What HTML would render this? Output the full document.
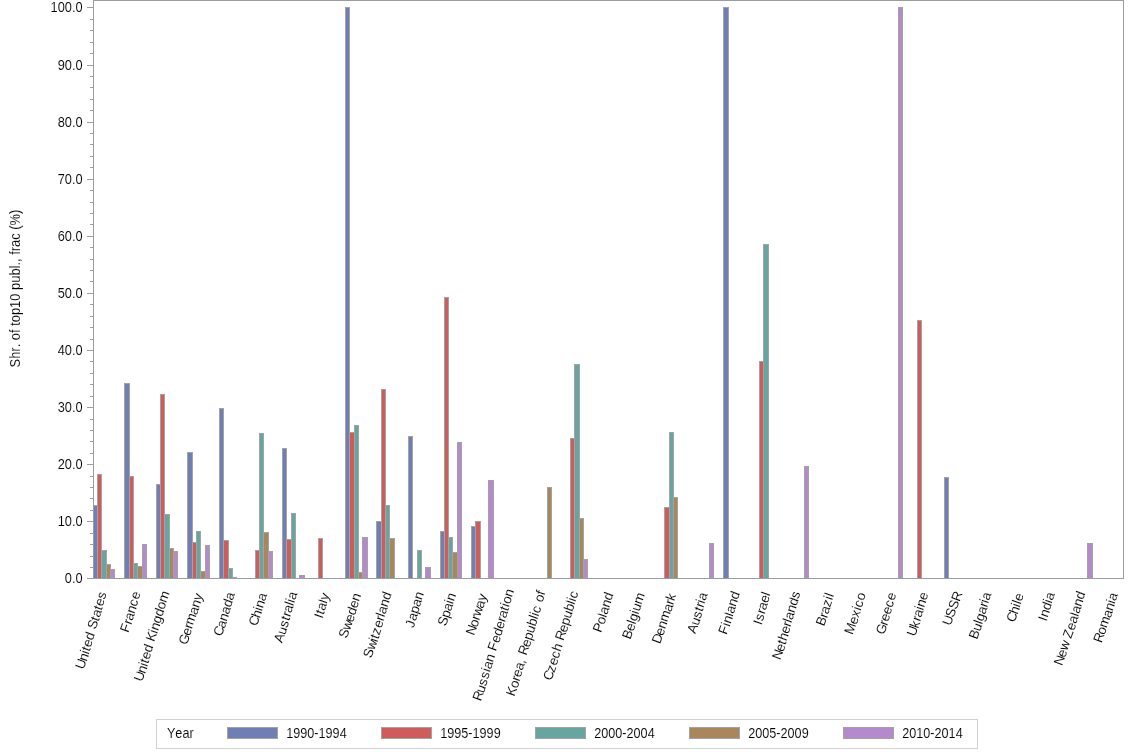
<!DOCTYPE html>
<html lang="en"><head><meta charset="utf-8"><title>Shr. of top10 publ., frac (%) by country and year</title>
<style>
html,body{margin:0;padding:0;background:#fff;}
body{width:1134px;height:756px;overflow:hidden;}
svg{display:block;will-change:transform;}
text{font-family:"Liberation Sans", sans-serif;fill:#000;font-kerning:none;stroke:#fff;stroke-width:0.1px;paint-order:fill stroke;}
.g{shape-rendering:crispEdges;}
</style></head><body>
<svg width="1134" height="756" viewBox="0 0 1134 756">
<rect x="0" y="0" width="1134" height="756" fill="#fff"/>
<g class="g">
<rect x="93" y="505" width="5" height="73" fill="#A3A3A3"/>
<rect x="94" y="506" width="3" height="72" fill="#6F7EB3"/>
<rect x="97" y="474" width="5" height="104" fill="#A3A3A3"/>
<rect x="98" y="475" width="3" height="103" fill="#D05B5B"/>
<rect x="101" y="550" width="6" height="28" fill="#A3A3A3"/>
<rect x="102" y="551" width="4" height="27" fill="#66A5A0"/>
<rect x="106" y="564" width="5" height="14" fill="#A3A3A3"/>
<rect x="107" y="565" width="3" height="13" fill="#A9865B"/>
<rect x="110" y="569" width="5" height="9" fill="#A3A3A3"/>
<rect x="111" y="570" width="3" height="8" fill="#B689CD"/>
<rect x="124" y="383" width="6" height="195" fill="#A3A3A3"/>
<rect x="125" y="384" width="4" height="194" fill="#6F7EB3"/>
<rect x="129" y="476" width="5" height="102" fill="#A3A3A3"/>
<rect x="130" y="477" width="3" height="101" fill="#D05B5B"/>
<rect x="133" y="563" width="5" height="15" fill="#A3A3A3"/>
<rect x="134" y="564" width="3" height="14" fill="#66A5A0"/>
<rect x="137" y="566" width="6" height="12" fill="#A3A3A3"/>
<rect x="138" y="567" width="4" height="11" fill="#A9865B"/>
<rect x="142" y="544" width="5" height="34" fill="#A3A3A3"/>
<rect x="143" y="545" width="3" height="33" fill="#B689CD"/>
<rect x="156" y="484" width="5" height="94" fill="#A3A3A3"/>
<rect x="157" y="485" width="3" height="93" fill="#6F7EB3"/>
<rect x="160" y="394" width="5" height="184" fill="#A3A3A3"/>
<rect x="161" y="395" width="3" height="183" fill="#D05B5B"/>
<rect x="164" y="514" width="6" height="64" fill="#A3A3A3"/>
<rect x="165" y="515" width="4" height="63" fill="#66A5A0"/>
<rect x="169" y="548" width="5" height="30" fill="#A3A3A3"/>
<rect x="170" y="549" width="3" height="29" fill="#A9865B"/>
<rect x="173" y="551" width="5" height="27" fill="#A3A3A3"/>
<rect x="174" y="552" width="3" height="26" fill="#B689CD"/>
<rect x="187" y="452" width="6" height="126" fill="#A3A3A3"/>
<rect x="188" y="453" width="4" height="125" fill="#6F7EB3"/>
<rect x="192" y="542" width="5" height="36" fill="#A3A3A3"/>
<rect x="193" y="543" width="3" height="35" fill="#D05B5B"/>
<rect x="196" y="531" width="5" height="47" fill="#A3A3A3"/>
<rect x="197" y="532" width="3" height="46" fill="#66A5A0"/>
<rect x="200" y="571" width="6" height="7" fill="#A3A3A3"/>
<rect x="201" y="572" width="4" height="6" fill="#A9865B"/>
<rect x="205" y="545" width="5" height="33" fill="#A3A3A3"/>
<rect x="206" y="546" width="3" height="32" fill="#B689CD"/>
<rect x="219" y="408" width="5" height="170" fill="#A3A3A3"/>
<rect x="220" y="409" width="3" height="169" fill="#6F7EB3"/>
<rect x="223" y="540" width="6" height="38" fill="#A3A3A3"/>
<rect x="224" y="541" width="4" height="37" fill="#D05B5B"/>
<rect x="228" y="568" width="5" height="10" fill="#A3A3A3"/>
<rect x="229" y="569" width="3" height="9" fill="#66A5A0"/>
<rect x="232" y="577" width="5" height="1" fill="#A3A3A3"/>
<rect x="255" y="550" width="5" height="28" fill="#A3A3A3"/>
<rect x="256" y="551" width="3" height="27" fill="#D05B5B"/>
<rect x="259" y="433" width="5" height="145" fill="#A3A3A3"/>
<rect x="260" y="434" width="3" height="144" fill="#66A5A0"/>
<rect x="263" y="532" width="6" height="46" fill="#A3A3A3"/>
<rect x="264" y="533" width="4" height="45" fill="#A9865B"/>
<rect x="268" y="551" width="5" height="27" fill="#A3A3A3"/>
<rect x="269" y="552" width="3" height="26" fill="#B689CD"/>
<rect x="282" y="448" width="5" height="130" fill="#A3A3A3"/>
<rect x="283" y="449" width="3" height="129" fill="#6F7EB3"/>
<rect x="286" y="539" width="6" height="39" fill="#A3A3A3"/>
<rect x="287" y="540" width="4" height="38" fill="#D05B5B"/>
<rect x="291" y="513" width="5" height="65" fill="#A3A3A3"/>
<rect x="292" y="514" width="3" height="64" fill="#66A5A0"/>
<rect x="299" y="575" width="6" height="3" fill="#A3A3A3"/>
<rect x="300" y="576" width="4" height="2" fill="#B689CD"/>
<rect x="318" y="538" width="5" height="40" fill="#A3A3A3"/>
<rect x="319" y="539" width="3" height="39" fill="#D05B5B"/>
<rect x="345" y="7" width="5" height="571" fill="#A3A3A3"/>
<rect x="346" y="8" width="3" height="570" fill="#6F7EB3"/>
<rect x="349" y="432" width="6" height="146" fill="#A3A3A3"/>
<rect x="350" y="433" width="4" height="145" fill="#D05B5B"/>
<rect x="354" y="425" width="5" height="153" fill="#A3A3A3"/>
<rect x="355" y="426" width="3" height="152" fill="#66A5A0"/>
<rect x="358" y="572" width="5" height="6" fill="#A3A3A3"/>
<rect x="359" y="573" width="3" height="5" fill="#A9865B"/>
<rect x="362" y="537" width="6" height="41" fill="#A3A3A3"/>
<rect x="363" y="538" width="4" height="40" fill="#B689CD"/>
<rect x="376" y="521" width="6" height="57" fill="#A3A3A3"/>
<rect x="377" y="522" width="4" height="56" fill="#6F7EB3"/>
<rect x="381" y="389" width="5" height="189" fill="#A3A3A3"/>
<rect x="382" y="390" width="3" height="188" fill="#D05B5B"/>
<rect x="385" y="505" width="5" height="73" fill="#A3A3A3"/>
<rect x="386" y="506" width="3" height="72" fill="#66A5A0"/>
<rect x="389" y="538" width="6" height="40" fill="#A3A3A3"/>
<rect x="390" y="539" width="4" height="39" fill="#A9865B"/>
<rect x="408" y="436" width="5" height="142" fill="#A3A3A3"/>
<rect x="409" y="437" width="3" height="141" fill="#6F7EB3"/>
<rect x="417" y="550" width="5" height="28" fill="#A3A3A3"/>
<rect x="418" y="551" width="3" height="27" fill="#66A5A0"/>
<rect x="425" y="567" width="6" height="11" fill="#A3A3A3"/>
<rect x="426" y="568" width="4" height="10" fill="#B689CD"/>
<rect x="440" y="531" width="5" height="47" fill="#A3A3A3"/>
<rect x="441" y="532" width="3" height="46" fill="#6F7EB3"/>
<rect x="444" y="297" width="5" height="281" fill="#A3A3A3"/>
<rect x="445" y="298" width="3" height="280" fill="#D05B5B"/>
<rect x="448" y="537" width="5" height="41" fill="#A3A3A3"/>
<rect x="449" y="538" width="3" height="40" fill="#66A5A0"/>
<rect x="452" y="552" width="6" height="26" fill="#A3A3A3"/>
<rect x="453" y="553" width="4" height="25" fill="#A9865B"/>
<rect x="457" y="442" width="5" height="136" fill="#A3A3A3"/>
<rect x="458" y="443" width="3" height="135" fill="#B689CD"/>
<rect x="471" y="526" width="5" height="52" fill="#A3A3A3"/>
<rect x="472" y="527" width="3" height="51" fill="#6F7EB3"/>
<rect x="475" y="521" width="6" height="57" fill="#A3A3A3"/>
<rect x="476" y="522" width="4" height="56" fill="#D05B5B"/>
<rect x="488" y="480" width="6" height="98" fill="#A3A3A3"/>
<rect x="489" y="481" width="4" height="97" fill="#B689CD"/>
<rect x="547" y="487" width="5" height="91" fill="#A3A3A3"/>
<rect x="548" y="488" width="3" height="90" fill="#A9865B"/>
<rect x="570" y="438" width="5" height="140" fill="#A3A3A3"/>
<rect x="571" y="439" width="3" height="139" fill="#D05B5B"/>
<rect x="574" y="364" width="6" height="214" fill="#A3A3A3"/>
<rect x="575" y="365" width="4" height="213" fill="#66A5A0"/>
<rect x="579" y="518" width="5" height="60" fill="#A3A3A3"/>
<rect x="580" y="519" width="3" height="59" fill="#A9865B"/>
<rect x="583" y="559" width="5" height="19" fill="#A3A3A3"/>
<rect x="584" y="560" width="3" height="18" fill="#B689CD"/>
<rect x="664" y="507" width="6" height="71" fill="#A3A3A3"/>
<rect x="665" y="508" width="4" height="70" fill="#D05B5B"/>
<rect x="669" y="432" width="5" height="146" fill="#A3A3A3"/>
<rect x="670" y="433" width="3" height="145" fill="#66A5A0"/>
<rect x="673" y="497" width="5" height="81" fill="#A3A3A3"/>
<rect x="674" y="498" width="3" height="80" fill="#A9865B"/>
<rect x="709" y="543" width="5" height="35" fill="#A3A3A3"/>
<rect x="710" y="544" width="3" height="34" fill="#B689CD"/>
<rect x="723" y="7" width="6" height="571" fill="#A3A3A3"/>
<rect x="724" y="8" width="4" height="570" fill="#6F7EB3"/>
<rect x="759" y="361" width="5" height="217" fill="#A3A3A3"/>
<rect x="760" y="362" width="3" height="216" fill="#D05B5B"/>
<rect x="763" y="244" width="6" height="334" fill="#A3A3A3"/>
<rect x="764" y="245" width="4" height="333" fill="#66A5A0"/>
<rect x="804" y="466" width="5" height="112" fill="#A3A3A3"/>
<rect x="805" y="467" width="3" height="111" fill="#B689CD"/>
<rect x="898" y="7" width="5" height="571" fill="#A3A3A3"/>
<rect x="899" y="8" width="3" height="570" fill="#B689CD"/>
<rect x="917" y="320" width="5" height="258" fill="#A3A3A3"/>
<rect x="918" y="321" width="3" height="257" fill="#D05B5B"/>
<rect x="944" y="477" width="5" height="101" fill="#A3A3A3"/>
<rect x="945" y="478" width="3" height="100" fill="#6F7EB3"/>
<rect x="1087" y="543" width="6" height="35" fill="#A3A3A3"/>
<rect x="1088" y="544" width="4" height="34" fill="#B689CD"/>
</g>
<g class="g" fill="#989EA1">
<rect x="93" y="0" width="1031" height="1"/>
<rect x="93" y="578" width="1031" height="1"/>
<rect x="93" y="0" width="1" height="579"/>
<rect x="1123" y="0" width="1" height="579"/>
<rect x="87" y="578" width="6" height="1"/>
<rect x="90" y="567" width="3" height="1"/>
<rect x="90" y="556" width="3" height="1"/>
<rect x="90" y="544" width="3" height="1"/>
<rect x="90" y="533" width="3" height="1"/>
<rect x="87" y="521" width="6" height="1"/>
<rect x="90" y="510" width="3" height="1"/>
<rect x="90" y="498" width="3" height="1"/>
<rect x="90" y="487" width="3" height="1"/>
<rect x="90" y="476" width="3" height="1"/>
<rect x="87" y="464" width="6" height="1"/>
<rect x="90" y="453" width="3" height="1"/>
<rect x="90" y="441" width="3" height="1"/>
<rect x="90" y="430" width="3" height="1"/>
<rect x="90" y="419" width="3" height="1"/>
<rect x="87" y="407" width="6" height="1"/>
<rect x="90" y="396" width="3" height="1"/>
<rect x="90" y="384" width="3" height="1"/>
<rect x="90" y="373" width="3" height="1"/>
<rect x="90" y="361" width="3" height="1"/>
<rect x="87" y="350" width="6" height="1"/>
<rect x="90" y="339" width="3" height="1"/>
<rect x="90" y="327" width="3" height="1"/>
<rect x="90" y="316" width="3" height="1"/>
<rect x="90" y="304" width="3" height="1"/>
<rect x="87" y="293" width="6" height="1"/>
<rect x="90" y="281" width="3" height="1"/>
<rect x="90" y="270" width="3" height="1"/>
<rect x="90" y="259" width="3" height="1"/>
<rect x="90" y="247" width="3" height="1"/>
<rect x="87" y="236" width="6" height="1"/>
<rect x="90" y="224" width="3" height="1"/>
<rect x="90" y="213" width="3" height="1"/>
<rect x="90" y="202" width="3" height="1"/>
<rect x="90" y="190" width="3" height="1"/>
<rect x="87" y="179" width="6" height="1"/>
<rect x="90" y="167" width="3" height="1"/>
<rect x="90" y="156" width="3" height="1"/>
<rect x="90" y="144" width="3" height="1"/>
<rect x="90" y="133" width="3" height="1"/>
<rect x="87" y="122" width="6" height="1"/>
<rect x="90" y="110" width="3" height="1"/>
<rect x="90" y="99" width="3" height="1"/>
<rect x="90" y="87" width="3" height="1"/>
<rect x="90" y="76" width="3" height="1"/>
<rect x="87" y="65" width="6" height="1"/>
<rect x="90" y="53" width="3" height="1"/>
<rect x="90" y="42" width="3" height="1"/>
<rect x="90" y="30" width="3" height="1"/>
<rect x="90" y="19" width="3" height="1"/>
<rect x="87" y="7" width="6" height="1"/>
</g>
<g font-size="13.0" text-anchor="end">
<text transform="translate(82.6,583.0) scale(0.985,1.12)">0.0</text>
<text transform="translate(82.6,526.0) scale(0.985,1.12)">10.0</text>
<text transform="translate(82.6,469.0) scale(0.985,1.12)">20.0</text>
<text transform="translate(82.6,412.0) scale(0.985,1.12)">30.0</text>
<text transform="translate(82.6,355.0) scale(0.985,1.12)">40.0</text>
<text transform="translate(82.6,298.0) scale(0.985,1.12)">50.0</text>
<text transform="translate(82.6,241.0) scale(0.985,1.12)">60.0</text>
<text transform="translate(82.6,184.0) scale(0.985,1.12)">70.0</text>
<text transform="translate(82.6,127.0) scale(0.985,1.12)">80.0</text>
<text transform="translate(82.6,70.0) scale(0.985,1.12)">90.0</text>
<text transform="translate(82.6,12.0) scale(0.985,1.12)">100.0</text>
</g>
<text font-size="13.0" text-anchor="middle" transform="translate(20.1,288.55) rotate(-90) scale(0.9927,1.12)">Shr. of top10 publ., frac (%)</text>
<g font-size="13.4">
<text rotate="-70.0" x="83.4 86.4 88.4 89.4 90.4 92.4 94.4 95.4 98.4 99.4 101.4 102.4 104.4" y="669.9 661.9 654.9 651.9 647.9 640.9 633.9 629.9 621.9 617.9 610.9 606.9 599.9">United States</text>
<text rotate="-70.0" x="128.2 131.2 132.2 134.2 136.2 138.2" y="633.3 625.3 621.3 614.3 607.3 600.3">France</text>
<text rotate="-70.0" x="142.0 145.0 147.0 148.0 149.0 151.0 153.0 154.0 157.0 158.0 160.0 162.0 164.0 166.0" y="682.2 674.2 667.2 664.2 660.2 653.2 646.2 642.2 634.2 631.2 624.2 617.2 610.2 603.2">United Kingdom</text>
<text rotate="-70.0" x="186.8 189.8 191.8 192.8 196.8 198.8 200.8" y="645.5 636.5 629.5 625.5 615.5 608.5 601.5">Germany</text>
<text rotate="-70.0" x="221.4 224.4 226.4 228.4 230.4 232.4" y="637.0 629.0 622.0 615.0 608.0 601.0">Canada</text>
<text rotate="-70.0" x="256.7 259.7 261.7 262.7 264.7" y="626.7 618.7 611.7 608.7 601.7">China</text>
<text rotate="-70.0" x="282.1 285.1 287.1 289.1 290.1 291.1 293.1 294.1 295.1" y="643.6 635.6 628.6 621.6 617.6 613.6 606.6 603.6 600.6">Australia</text>
<text rotate="-70.0" x="322.5 323.5 324.5 326.5 327.5" y="619.2 615.2 611.2 604.2 601.2">Italy</text>
<text rotate="-70.0" x="346.8 349.8 352.8 354.8 356.8 358.8" y="638.9 630.9 622.9 615.9 608.9 601.9">Sweden</text>
<text rotate="-70.0" x="371.2 374.2 377.2 378.2 379.2 381.2 383.2 384.2 385.2 387.2 389.2" y="658.7 650.7 642.7 639.7 635.7 628.7 621.7 617.7 614.7 607.7 600.7">Switzerland</text>
<text rotate="-70.0" x="413.6 415.6 417.6 419.6 421.6" y="628.6 621.6 614.6 607.6 600.6">Japan</text>
<text rotate="-70.0" x="445.8 448.8 450.8 452.8 453.8" y="626.7 618.7 611.7 604.7 601.7">Spain</text>
<text rotate="-70.0" x="473.9 476.9 478.9 479.9 482.9 484.9" y="636.1 628.1 621.1 617.1 609.1 602.1">Norway</text>
<text rotate="-70.0" x="480.7 483.7 485.7 487.7 489.7 490.7 492.7 494.7 495.7 498.7 500.7 502.7 504.7 505.7 507.7 508.7 509.7 511.7" y="701.7 693.7 686.7 679.7 672.7 669.7 662.7 655.7 651.7 643.7 636.7 629.7 622.7 618.7 611.7 607.7 604.7 597.7">Russian Federation</text>
<text rotate="-70.0" x="514.3 517.3 519.3 520.3 522.3 524.3 525.3 526.3 529.3 531.3 533.3 535.3 537.3 538.3 539.3 541.3 542.3 544.3" y="697.0 689.0 682.0 678.0 671.0 664.0 660.0 656.0 648.0 641.0 634.0 627.0 620.0 617.0 614.0 607.0 603.0 596.0">Korea, Republic of</text>
<text rotate="-70.0" x="551.3 554.3 556.3 558.3 560.3 562.3 563.3 566.3 568.3 570.3 572.3 574.3 575.3 576.3" y="681.2 673.2 666.2 659.2 652.2 645.2 641.2 633.2 626.2 619.2 612.2 605.2 602.2 599.2">Czech Republic</text>
<text rotate="-70.0" x="601.0 604.0 606.0 607.0 609.0 611.0" y="633.3 625.3 618.3 615.3 608.3 601.3">Poland</text>
<text rotate="-70.0" x="630.2 633.2 635.2 636.2 638.2 639.2 641.2" y="639.9 631.9 624.9 621.9 614.9 611.9 604.9">Belgium</text>
<text rotate="-70.0" x="660.0 663.0 665.0 667.0 671.0 673.0 674.0" y="644.6 636.6 629.6 622.6 612.6 605.6 601.6">Denmark</text>
<text rotate="-70.0" x="695.3 698.3 700.3 702.3 703.3 704.3 705.3" y="634.2 626.2 619.2 612.2 608.2 604.2 601.2">Austria</text>
<text rotate="-70.0" x="726.4 729.4 730.4 732.4 733.4 735.4 737.4" y="635.2 627.2 624.2 617.2 614.2 607.2 600.2">Finland</text>
<text rotate="-70.0" x="761.4 762.4 764.4 765.4 767.4 769.4" y="625.8 621.8 614.8 610.8 603.8 596.8">Israel</text>
<text rotate="-70.0" x="780.2 783.2 785.2 786.2 788.2 790.2 791.2 792.2 794.2 796.2 798.2" y="660.5 652.5 645.5 641.5 634.5 627.5 623.5 620.5 613.5 606.5 599.5">Netherlands</text>
<text rotate="-70.0" x="824.1 827.1 828.1 830.1 832.1 833.1" y="626.7 618.7 614.7 607.7 600.7 597.7">Brazil</text>
<text rotate="-70.0" x="852.5 856.5 858.5 860.5 861.5 863.5" y="635.2 625.2 618.2 611.2 608.2 601.2">Mexico</text>
<text rotate="-70.0" x="884.0 887.0 888.0 890.0 892.0 894.0" y="635.2 626.2 622.2 615.2 608.2 601.2">Greece</text>
<text rotate="-70.0" x="914.9 917.9 919.9 920.9 922.9 923.9 925.9" y="637.0 629.0 622.0 618.0 611.0 608.0 601.0">Ukraine</text>
<text rotate="-70.0" x="950.6 953.6 956.6 959.6" y="626.3 618.3 610.3 602.3">USSR</text>
<text rotate="-70.0" x="976.9 979.9 981.9 982.9 984.9 986.9 987.9 988.9" y="639.9 631.9 624.9 621.9 614.9 607.9 603.9 600.9">Bulgaria</text>
<text rotate="-70.0" x="1014.6 1017.6 1019.6 1020.6 1021.6" y="623.0 615.0 608.0 605.0 602.0">Chile</text>
<text rotate="-70.0" x="1046.4 1047.4 1049.4 1051.4 1052.4" y="622.0 618.0 611.0 604.0 601.0">India</text>
<text rotate="-70.0" x="1061.9 1064.9 1066.9 1069.9 1070.9 1073.9 1075.9 1077.9 1078.9 1080.9 1082.9" y="666.2 658.2 651.2 643.2 639.2 631.2 624.2 617.2 614.2 607.2 600.2">New Zealand</text>
<text rotate="-70.0" x="1101.6 1104.6 1106.6 1110.6 1112.6 1114.6 1115.6" y="643.6 635.6 628.6 618.6 611.6 604.6 601.6">Romania</text>
</g>
<g class="g">
<rect x="156.5" y="719.5" width="821" height="29" fill="#fff" stroke="#D1D1D1" stroke-width="1"/>
<rect x="227" y="727" width="51" height="12" fill="#A3A3A3"/>
<rect x="228" y="728" width="49" height="10" fill="#6F7EB3"/>
<rect x="381" y="727" width="51" height="12" fill="#A3A3A3"/>
<rect x="382" y="728" width="49" height="10" fill="#D05B5B"/>
<rect x="535" y="727" width="51" height="12" fill="#A3A3A3"/>
<rect x="536" y="728" width="49" height="10" fill="#66A5A0"/>
<rect x="689" y="727" width="51" height="12" fill="#A3A3A3"/>
<rect x="690" y="728" width="49" height="10" fill="#A9865B"/>
<rect x="843" y="727" width="51" height="12" fill="#A3A3A3"/>
<rect x="844" y="728" width="49" height="10" fill="#B689CD"/>
</g>
<g font-size="13.0">
<text transform="translate(166.9,737.9) scale(0.975,1.12)">Year</text>
<text transform="translate(286.2,737.9) scale(0.974,1.12)">1990-1994</text>
<text transform="translate(440.2,737.9) scale(0.974,1.12)">1995-1999</text>
<text transform="translate(594.2,737.9) scale(0.974,1.12)">2000-2004</text>
<text transform="translate(748.2,737.9) scale(0.974,1.12)">2005-2009</text>
<text transform="translate(902.2,737.9) scale(0.974,1.12)">2010-2014</text>
</g>
</svg></body></html>
